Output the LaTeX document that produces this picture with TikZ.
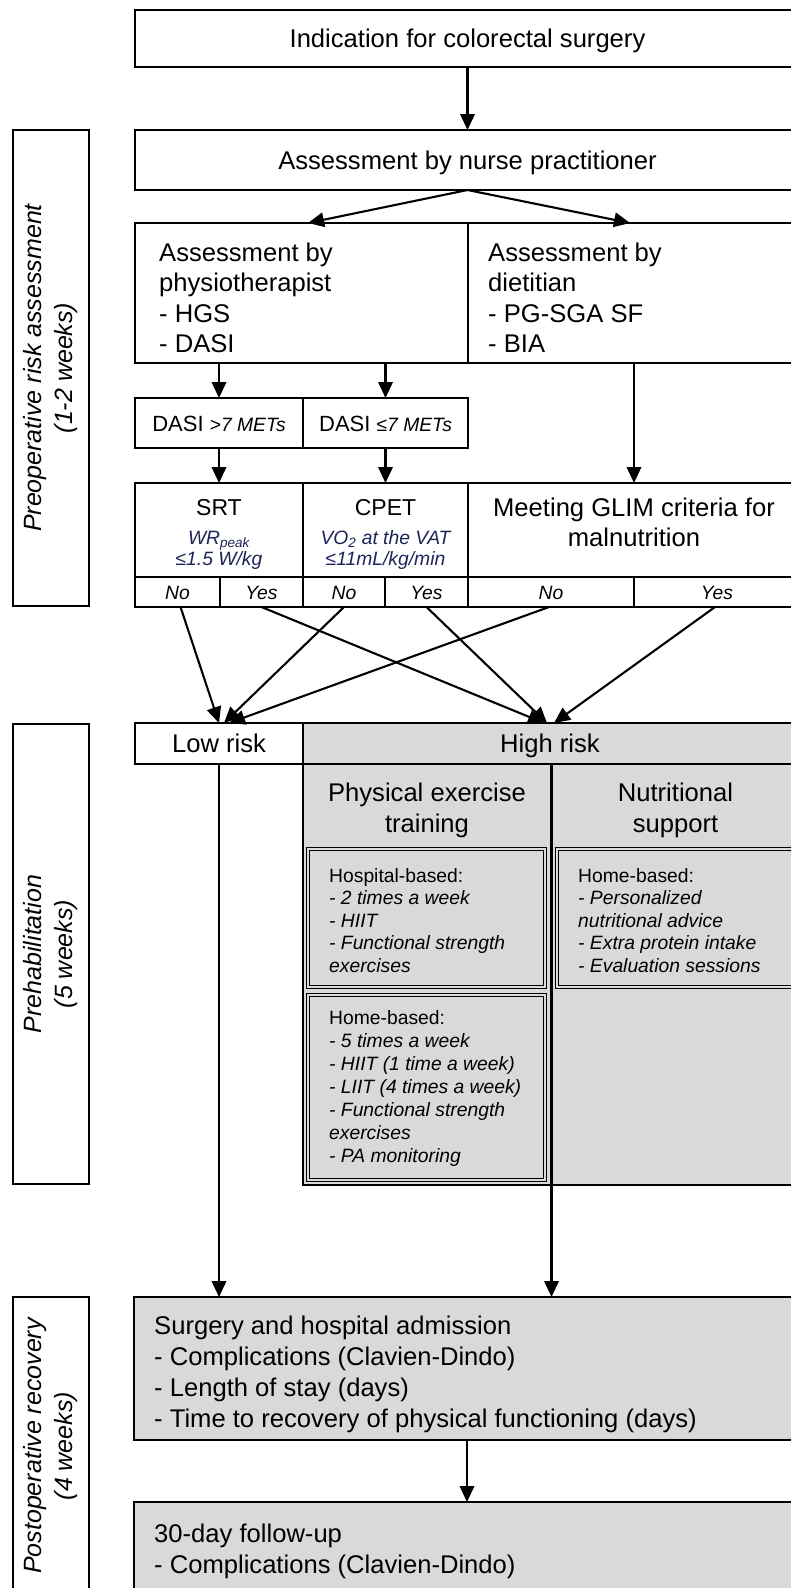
\documentclass[tikz,border=0pt]{standalone}
\usepackage{fontspec}
\setmainfont{Liberation Sans}
\usetikzlibrary{arrows.meta}
\definecolor{boxgray}{HTML}{D9D9D9}
\definecolor{navy}{HTML}{1F2458}
\newcommand\FzMain{\fontsize{25.6pt}{30.5pt}\selectfont}
\newcommand\FzMid{\fontsize{23pt}{27pt}\selectfont}
\newcommand\FzDasi{\fontsize{22pt}{26pt}\selectfont}
\newcommand\FzSmall{\fontsize{19.3pt}{22.5pt}\selectfont}
\newcommand\FzHome{\fontsize{19.3pt}{23pt}\selectfont}
\newcommand\FzSurg{\fontsize{25.6pt}{31pt}\selectfont}
\newcommand\FzSide{\fontsize{25pt}{31pt}\selectfont}
\begin{document}
\begin{tikzpicture}[x=1pt,y=-1pt,
  box/.style={draw, line width=2pt, inner sep=0pt, outer sep=0pt, anchor=north west},
  gbox/.style={box, fill=boxgray},
  dbox/.style={draw, line width=1.1pt, double=boxgray, double distance=1.4pt, inner sep=0pt, outer sep=0pt, anchor=north west},
  arr/.style={line width=2.1pt, -{Triangle[length=16pt,width=14.5pt]}},
  txt/.style={inner sep=0pt, anchor=base},
  ltxt/.style={inner sep=0pt, anchor=base west, align=left},
]
\useasboundingbox (0,0) rectangle (790,1588);

% sidebars
\node[box, minimum width=76pt, minimum height=476pt] (side1) at (13,130) {};
\node[box, minimum width=76pt, minimum height=460pt] (side2) at (13,724) {};
\node[box, minimum width=76pt, minimum height=304pt] (side3) at (13,1297) {};
\node[rotate=90, align=center, font=\FzSide\itshape, inner sep=0pt] (side1t) at (side1.center) {Preoperative risk assessment\\(1-2 weeks)};
\node[rotate=90, align=center, font=\FzSide\itshape, inner sep=0pt] (side2t) at (side2.center) {Prehabilitation\\(5 weeks)};
\node[rotate=90, align=center, font=\FzSide\itshape, inner sep=0pt] (side3t) at (51,1446) {Postoperative recovery\\(4 weeks)};

% main boxes
\node[box, minimum width=665pt, minimum height=57pt] (top) at (135,10) {};
\node[box, minimum width=665pt, minimum height=60pt] (nurse) at (135,130) {};
\node[box, minimum width=333pt, minimum height=140pt] (physio) at (135,223) {};
\node[box, minimum width=332pt, minimum height=140pt] (diet) at (468,223) {};
\node[box, minimum width=168pt, minimum height=50pt] (dasia) at (135,398) {};
\node[box, minimum width=165pt, minimum height=50pt] (dasib) at (303,398) {};
\node[box, minimum width=168pt, minimum height=94pt] (srt) at (135,483) {};
\node[box, minimum width=165pt, minimum height=94pt] (cpet) at (303,483) {};
\node[box, minimum width=332pt, minimum height=94pt] (glim) at (468,483) {};
\node[box, minimum width=85pt, minimum height=30pt] (srtno) at (135,577) {};
\node[box, minimum width=83pt, minimum height=30pt] (srtyes) at (220,577) {};
\node[box, minimum width=82pt, minimum height=30pt] (cpetno) at (303,577) {};
\node[box, minimum width=83pt, minimum height=30pt] (cpetyes) at (385,577) {};
\node[box, minimum width=166pt, minimum height=30pt] (glimno) at (468,577) {};
\node[box, minimum width=166pt, minimum height=30pt] (glimyes) at (634,577) {};
\node[box, minimum width=168pt, minimum height=41pt] (lowrisk) at (135,723) {};
\node[gbox, minimum width=497pt, minimum height=41pt] (highrisk) at (303,723) {};
\node[gbox, minimum width=497pt, minimum height=421pt] (hrbody) at (303,764) {};
\node[dbox, minimum width=237pt, minimum height=138pt] (hosp) at (308,849) {};
\node[dbox, minimum width=250pt, minimum height=138pt] (nutr) at (557,849) {};
\node[dbox, minimum width=237pt, minimum height=185pt] (homeex) at (308,995) {};
\node[gbox, minimum width=666pt, minimum height=143pt] (surgery) at (134,1297) {};
\node[gbox, minimum width=666pt, minimum height=130pt] (followup) at (134,1502) {};

% texts (multi-line nodes: base anchor = baseline of last line)
\node[txt, font=\FzMain] (ttop) at (467.5,47.5) {Indication for colorectal surgery};
\node[txt, font=\FzMain] (tnurse) at (467.5,169) {Assessment by nurse practitioner};
\node[ltxt, font=\FzMain] (tphysio) at (159,352.5) {Assessment by\\physiotherapist\\- HGS\\- DASI};
\node[ltxt, font=\FzMain] (tdiet) at (488,352.5) {Assessment by\\dietitian\\- PG-SGA SF\\- BIA};
\node[txt] (tdasia) at (219,431) {\FzDasi DASI {\FzSmall\itshape >7 METs}};
\node[txt] (tdasib) at (385.5,431) {\FzDasi DASI {\FzSmall\itshape ≤7 METs}};
\node[txt, font=\FzMid] (tsrt) at (219,515) {SRT};
\node[txt, font=\FzSmall\itshape, text=navy] (tsrt2) at (219,544) {WR\textsubscript{peak}};
\node[txt, font=\FzSmall\itshape, text=navy] (tsrt3) at (219,565) {≤1.5 W/kg};
\node[txt, font=\FzMid] (tcpet) at (385.5,515) {CPET};
\node[txt, font=\FzSmall\itshape, text=navy] (tcpet2) at (385.5,544) {VO\textsubscript{2} at the VAT};
\node[txt, font=\FzSmall\itshape, text=navy] (tcpet3) at (385.5,565) {≤11mL/kg/min};
\node[txt, font=\FzMain] (tglim) at (634,516) {Meeting GLIM criteria for};
\node[txt, font=\FzMain] (tglim2) at (634,546) {malnutrition};
\node[txt, font=\FzSmall\itshape] (tsrtno) at (srtno.center |- 0,599) {No};
\node[txt, font=\FzSmall\itshape] (tsrtyes) at (srtyes.center |- 0,599) {Yes};
\node[txt, font=\FzSmall\itshape] (tcpetno) at (cpetno.center |- 0,599) {No};
\node[txt, font=\FzSmall\itshape] (tcpetyes) at (cpetyes.center |- 0,599) {Yes};
\node[txt, font=\FzSmall\itshape] (tglimno) at (glimno.center |- 0,599) {No};
\node[txt, font=\FzSmall\itshape] (tglimyes) at (glimyes.center |- 0,599) {Yes};
\node[txt, font=\FzMain] (tlow) at (219,752.5) {Low risk};
\node[txt, font=\FzMain] (thigh) at (550,752.5) {High risk};
\node[txt, font=\FzMain] (tpet1) at (427,801) {Physical exercise};
\node[txt, font=\FzMain] (tpet2) at (427,832) {training};
\node[txt, font=\FzMain] (tns1) at (675.5,801) {Nutritional};
\node[txt, font=\FzMain] (tns2) at (675.5,832) {support};
\node[ltxt, font=\FzSmall] (thosp) at (329,972) {Hospital-based:\\\textit{- 2 times a week}\\\textit{- HIIT}\\\textit{- Functional strength}\\\textit{exercises}};
\node[ltxt, font=\FzSmall] (tnutr) at (578,972) {Home-based:\\\textit{- Personalized}\\\textit{nutritional advice}\\\textit{- Extra protein intake}\\\textit{- Evaluation sessions}};
\node[ltxt, font=\FzHome] (thome) at (329,1162) {Home-based:\\\textit{- 5 times a week}\\\textit{- HIIT (1 time a week)}\\\textit{- LIIT (4 times a week)}\\\textit{- Functional strength}\\\textit{exercises}\\\textit{- PA monitoring}};
\node[ltxt, font=\FzSurg] (tsurg) at (154,1427) {Surgery and hospital admission\\- Complications (Clavien-Dindo)\\- Length of stay (days)\\- Time to recovery of physical functioning (days)};
\node[ltxt, font=\FzSurg] (tfollow) at (154,1573) {30-day follow-up\\- Complications (Clavien-Dindo)};

% connectors
\draw[arr] (top.south) -- (nurse.north);
\draw[arr] (nurse.south) -- ([xshift=6.5pt]physio.north);
\draw[arr] (nurse.south) -- ([xshift=-4pt]diet.north);
\draw[arr] (dasia.north |- physio.south) -- (dasia.north);
\draw[arr] (dasib.north |- physio.south) -- (dasib.north);
\draw[arr] (dasia.south) -- (srt.north);
\draw[arr] (dasib.south) -- (cpet.north);
\draw[arr] (diet.south) -- (glim.north);
\draw[arr] ([xshift=3pt]srtno.south) -- (lowrisk.north);
\draw[arr] (srtyes.south) -- ([xshift=-7.5pt]highrisk.north);
\draw[arr] (cpetno.south) -- ([xshift=5pt]lowrisk.north);
\draw[arr] (cpetyes.south) -- ([xshift=-4.5pt]highrisk.north);
\draw[arr] ([xshift=-2pt]glimno.south) -- ([xshift=10pt]lowrisk.north);
\draw[arr] ([xshift=-2pt]glimyes.south) -- ([xshift=2.5pt]highrisk.north);
\draw[arr] (lowrisk.south) -- (lowrisk.south |- surgery.north);
\draw[arr] (highrisk.south) -- (highrisk.south |- surgery.north);
\draw[arr] (surgery.south) -- (followup.north);
\end{tikzpicture}
\end{document}
